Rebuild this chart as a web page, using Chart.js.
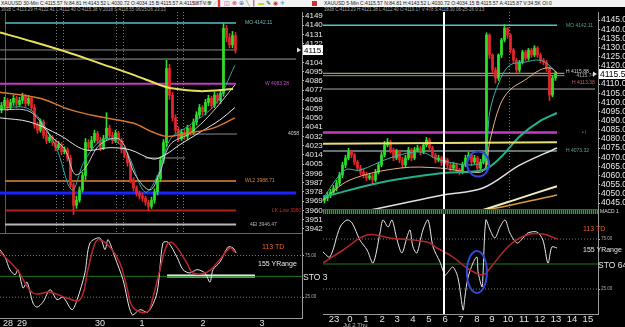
<!DOCTYPE html>
<html><head><meta charset="utf-8">
<script src="https://cdn.jsdelivr.net/npm/chart.js@4/dist/chart.umd.min.js"></script>
<style>
html,body{margin:0;padding:0;background:#000;width:625px;height:327px;overflow:hidden;font-family:"Liberation Sans",Arial,sans-serif;}
canvas{position:absolute;display:block;}
.t{position:absolute;white-space:nowrap;line-height:1;}
.bar{position:absolute;}
</style></head><body>
<div class="bar" style="left:0;top:0;width:625px;height:7px;background:#f2f2f2"></div>
<div class="t" style="left:1px;top:1px;font-size:5px;color:#222">XAUUSD 30-Min C:4115.57 N:84.81 H:4143.52 L:4030.72 O:4034.15 B:4115.57 A:4115.87 V:6</div>
<div class="t" style="left:193px;top:0px;font-size:6px;letter-spacing:2px"><span style="color:#c33">⊘</span><span style="color:#38c">⚐</span><span style="color:#393">▼</span><span style="color:#c93">⁄</span><span style="color:#c33">▌</span><span style="color:#a3a">◫</span><span style="color:#c33">⊗</span><span style="color:#36c">⊕</span><span style="color:#963">╲</span><span style="color:#c33">┃</span><span style="color:#cc3">▬</span><span style="color:#333">✎</span><span style="color:#c33">◉</span><span style="color:#38c">✈</span></div>
<div class="bar" style="left:312px;top:1px;width:5px;height:5px;background:#d03030"></div>
<div class="t" style="left:324px;top:1px;font-size:5px;color:#222">XAUUSD 5-Min C:4115.57 N:84.81 H:4143.52 L:4030.72 O:4034.15 B:4115.57 A:4115.87 V:34.5K OI:0</div>
<div class="t" style="left:1px;top:8px;font-size:4.5px;color:#aaa">3938 C:4113.29 H:4122.41 L:4112.40 O:4115.38 V:2018 S:4118.55 06/25/26 23:13</div>
<div class="t" style="left:324px;top:8px;font-size:4.5px;color:#aaa">3938 C:4113.23 H:4121.38 L:4112.40 O:4119.17 V:478 S:4118.30 06-25-26 0:13</div>

<canvas id="lp" width="323" height="221" style="left:0;top:12px"></canvas>
<canvas id="lo" width="323" height="94" style="left:0;top:233px"></canvas>
<div class="bar" style="left:0;top:233px;width:302px;height:1px;background:#666"></div>
<canvas id="rp" width="302" height="202" style="left:323px;top:12px;background:#000"></canvas>
<canvas id="ro" width="302" height="114" style="left:323px;top:213px;background:#000"></canvas>
<div class="bar" style="left:323px;top:209px;width:275px;height:4px;background:repeating-linear-gradient(90deg,#3aa03a 0 1px,#0b2a0b 1px 2px);border-top:1px solid #2d6d2d"></div>
<div class="t" style="left:600px;top:209px;font-size:5px;color:#ddd">MACD 1</div>

<div class="t" style="left:262px;top:243px;font-size:7px;color:#e2602c">113 TD</div>
<div class="t" style="left:258px;top:260px;font-size:7px;color:#e6e6e6">155 YRange</div>
<div class="t" style="left:303px;top:273px;font-size:8.5px;color:#e6e6e6">STO 3</div>
<div class="t" style="left:583px;top:225px;font-size:7px;color:#e2602c">113 TD</div>
<div class="t" style="left:583px;top:246px;font-size:7px;color:#e6e6e6">155 YRange</div>
<div class="t" style="left:598px;top:261px;font-size:8.5px;color:#e6e6e6">STO 64</div>
<div class="t" style="left:343px;top:322px;font-size:6px;color:#bbb">Jul 2 Thu</div>

<script>
// ---------------- LEFT (30-Min) DATA ----------------
const LEFT_OPEN = [4058,4062,4067,4060,4065,4069,4063,4067,4071,4064,
 4069,4060,4043,4038,4046,4033,4028,4031,4026,4021,
 4024,4017,4019,4011,3985,3965,3970,3980,3994,4026,
 4021,4028,4035,4028,4021,4030,4040,4033,4028,4035,
 4028,4019,4014,4006,3990,3982,3977,3974,3972,3968,
 3964,3970,3978,3991,4009,4026,4098,4072,4050,4038,
 4030,4036,4032,4040,4036,4046,4053,4060,4056,4065,
 4069,4062,4072,4067,4074,4137,4128,4121,4130];
const LEFT_HIGH = [4065,4070,4069,4068,4072,4071,4070,4074,4073,4072,
 4071,4063,4046,4049,4048,4036,4034,4033,4029,4027,
 4026,4022,4021,4014,3987,3974,3983,3997,4030,4029,
 4032,4038,4037,4031,4033,4055,4043,4036,4038,4037,
 4030,4022,4016,4008,3992,3984,3979,3977,3974,3970,
 3973,3981,3994,4012,4029,4106,4102,4075,4053,4041,
 4039,4039,4043,4042,4049,4056,4063,4062,4068,4072,
 4071,4075,4074,4077,4142,4140,4132,4134,4133];
const LEFT_LOW = [4055,4059,4057,4058,4062,4060,4061,4064,4061,4062,
 4057,4040,4035,4036,4030,4025,4026,4023,4018,4019,
 4014,4015,4008,3982,3956,3962,3968,3978,3990,4018,
 4019,4026,4025,4018,4019,4028,4030,4025,4026,4025,
 4016,4011,4003,3987,3979,3974,3971,3969,3965,3960,
 3962,3967,3975,3988,4006,4022,4068,4047,4035,4027,
 4028,4029,4029,4033,4034,4043,4050,4053,4053,4062,
 4059,4060,4064,4064,4071,4124,4118,4118,4113];
const LEFT_CLOSE = [4062,4067,4060,4065,4069,4063,4067,4071,4064,4069,
 4060,4043,4038,4046,4033,4028,4031,4026,4021,4024,
 4017,4019,4011,3985,3965,3970,3980,3994,4026,4021,
 4028,4035,4028,4021,4030,4040,4033,4028,4035,4028,
 4019,4014,4006,3990,3982,3977,3974,3972,3968,3964,
 3970,3978,3991,4009,4026,4098,4072,4050,4038,4030,
 4036,4032,4040,4036,4046,4053,4060,4056,4065,4069,
 4062,4072,4067,4074,4137,4128,4121,4130,4116];

const LEFT_MA_YELLOW_X = [-0.5,10.5,21.8,32.8,43.8,52.8,56.2,66.2,77.2];
const LEFT_MA_YELLOW   = [4133,4124,4114,4103,4092,4082,4079,4076,4078];
const LEFT_MA_ORANGE_X = [-0.5,12.8,22.8,32.8,43.8,50.5,55.2,61.8,70.5,77.8];
const LEFT_MA_ORANGE   = [4075,4069,4058,4051,4045,4036,4032,4035,4040,4050];
const LEFT_MA_WSLOW_X  = [-0.5,9.5,19.5,27.8,36.2,42.8,50.5,54.5,59.5,66.2,72.8,77.8];
const LEFT_MA_WSLOW    = [4050,4046,4033,4019,4021,4019,4010,4014,4024,4036,4048,4060];
const LEFT_MA_WFAST_X  = [-0.5,9.5,16.2,21.2,24.5,27.8,32.8,39.5,44.5,49.5,52.8,56.2,62.8,69.5,77.8];
const LEFT_MA_WFAST    = [4058,4056,4033,4019,3995,4001,4024,4029,3995,3980,3997,4024,4035,4053,4082];
const LEFT_MA_TEAL_X   = [-0.5,9.5,17.8,23.5,27.8,34.5,41.2,47.8,52.2,56.2,62.8,71.2,77.8];
const LEFT_MA_TEAL     = [4060,4058,4024,3980,4009,4030,4019,3978,3995,4029,4043,4063,4101];

const LEFT_LEVELS     = [4142.11,4116.0,4107.2,4083.28,4034.3,4011.0,3988.71,3977.0,3960.0,3946.47];
const LEFT_LEVEL_FROM = [1.2,-0.5,-0.5,-0.5,61.8,47.8,1.2,-0.5,1.2,1.2];
const LEFT_LEVEL_TO   = [78.2,78.2,98.2,78.2,78.5,61.2,78.2,98.2,78.2,78.2];
const LEFT_LEVEL_TEXT = ['MO 4142.11','W 4083.28','4058','WL2 3988.71','LK Low 3960','4EI 3946.47'];
const LEFT_LEVEL_TEXT_AT = [[81.2,4142.11],[87.8,4083.28],[95.5,4034.3],[81.2,3988.71],[90.2,3960],[82.8,3946.47]];
const LEFT_DAY_LINES = [18.2,20.5,38.2,40.5,58.5,60.5];
const LEFT_Y_TICKS = [4149,4140,4131,4122,4113,4104,4095,4086,4077,4068,4059,4050,4041,4032,4023,4014,4005,3996,3987,3978,3969,3960,3951,3942];
const LEFT_LAST = 4115.57;

const LEFT_STO_RED_X = [-0.5,5.2,10.5,16.2,21.8,26.2,28.8,31.2,32.8,36.2,39.5,41.8,43.8,48.5,50.5,52.8,55.2,57.2,61.8,63.8,68.5,71.8,76.2,77.8];
const LEFT_STO_RED   = [79,58,30,31,24,22,58,90,94,85,66,37,13,7,25,58,88,90,66,54,55,66,84,79];
const LEFT_STO_WHITE_X = [-0.5,1.2,2.8,4.5,5.5,7.2,8.5,10.5,11.8,13.8,16.2,18.5,20.5,23.5,25.2,27.8,29.5,32.8,34.5,35.5,37.8,40.5,43.5,46.2,48.8,51.8,53.8,55.5,58.5,60.5,62.8,65.2,67.8,69.5,70.5,72.8,75.5,77.2,78.2];
const LEFT_STO_WHITE   = [82,73,58,52,58,36,43,18,13,19,34,22,25,10,22,54,90,96,82,94,73,46,4,10,7,30,90,91,73,58,54,58,54,43,58,67,85,84,78];
const LEFT_STO_MARK = [55.2,84.5,50.4];
const LEFT_X_TICKS = [2.2,6.8,32.8,46.8,67.2,86.8];
const LEFT_X_LABELS = ['28','29','30','1','2','3'];

// ---------------- RIGHT (5-Min) DATA ----------------
const RIGHT_OPEN = [4046.5,4047.7,4049.4,4051.0,4053.2,4055.9,4060.3,4065.8,4069.6,4072.9,
 4071.2,4067.4,4064.1,4061.9,4060.3,4058.7,4059.8,4057.6,4061.9,4065.8,
 4071.2,4076.7,4078.3,4074.0,4069.6,4072.9,4068.5,4065.8,4069.6,4074.0,
 4069.6,4074.0,4075.1,4072.9,4076.7,4079.4,4075.1,4071.2,4068.5,4069.6,
 4066.9,4068.5,4065.8,4064.1,4065.8,4063.0,4061.9,4065.8,4069.6,4071.2,
 4067.4,4069.6,4064.1,4067.4,4066.0,4136.8,4125.9,4117.7,4113.3,4125.9,
 4134.1,4140.6,4136.8,4128.6,4123.1,4117.7,4122.0,4127.5,4124.2,4128.6,
 4125.9,4129.7,4125.9,4123.1,4122.0,4118.8,4104.0,4113.3];
const RIGHT_HIGH = [4049.2,4050.9,4052.5,4054.7,4057.4,4061.8,4067.3,4071.1,4074.9,4073.9,
 4072.2,4068.4,4065.6,4063.4,4061.8,4061.3,4060.8,4063.4,4067.3,4072.7,
 4078.7,4080.3,4079.3,4075.0,4074.4,4073.9,4070.0,4071.1,4075.5,4075.0,
 4075.5,4076.6,4076.1,4078.2,4080.9,4080.4,4076.1,4072.2,4071.1,4070.6,
 4070.0,4069.5,4066.8,4067.3,4066.8,4064.0,4067.3,4071.1,4072.7,4072.2,
 4071.1,4070.6,4068.9,4072.7,4138.0,4137.5,4126.5,4119.0,4126.5,4135.0,
 4142.5,4141.0,4137.5,4129.5,4124.0,4123.0,4128.5,4128.5,4129.5,4129.5,
 4131.0,4130.5,4127.0,4124.0,4123.0,4119.5,4114.5,4117.0];
const RIGHT_LOW = [4045.0,4046.2,4047.9,4049.5,4051.7,4054.4,4058.8,4064.3,4068.6,4069.7,
 4065.9,4062.6,4060.4,4058.8,4057.2,4057.7,4055.6,4056.6,4060.9,4064.8,
 4070.2,4075.7,4072.5,4068.1,4068.6,4067.0,4064.3,4064.8,4068.6,4068.1,
 4068.6,4073.0,4071.4,4071.9,4075.7,4073.6,4069.7,4067.0,4067.5,4065.4,
 4065.9,4064.3,4062.6,4063.1,4061.5,4060.4,4060.9,4064.8,4068.6,4065.4,
 4066.4,4062.6,4063.1,4066.4,4064.5,4124.0,4116.0,4110.5,4112.0,4124.5,
 4133.0,4135.0,4127.0,4121.5,4116.0,4116.5,4121.0,4123.0,4123.0,4124.5,
 4125.0,4124.5,4121.5,4120.5,4117.0,4101.0,4103.0,4112.0];
const RIGHT_CLOSE = [4047.7,4049.4,4051.0,4053.2,4055.9,4060.3,4065.8,4069.6,4072.9,4071.2,
 4067.4,4064.1,4061.9,4060.3,4058.7,4059.8,4057.6,4061.9,4065.8,4071.2,
 4076.7,4078.3,4074.0,4069.6,4072.9,4068.5,4065.8,4069.6,4074.0,4069.6,
 4074.0,4075.1,4072.9,4076.7,4079.4,4075.1,4071.2,4068.5,4069.6,4066.9,
 4068.5,4065.8,4064.1,4065.8,4063.0,4061.9,4065.8,4069.6,4071.2,4067.4,
 4069.6,4064.1,4067.4,4071.2,4136.8,4125.9,4117.7,4113.3,4125.9,4134.1,
 4140.6,4136.8,4128.6,4123.1,4117.7,4122.0,4127.5,4124.2,4128.6,4125.9,
 4129.7,4125.9,4123.1,4122.0,4118.8,4104.0,4113.3,4115.6];

const RIGHT_MA_GREEN_X = [-0.5,19.5,39.5,52.8,58.5,65.2,71.8,77.5];
const RIGHT_MA_GREEN   = [4048.3,4056.5,4061.4,4063.0,4069.6,4081.6,4089.8,4094.2];
const RIGHT_MA_WHITE_X = [5.2,15.2,39.5,52.8,65.2,77.5];
const RIGHT_MA_WHITE   = [4039.0,4041.2,4049.4,4053.2,4065.8,4075.1];
const RIGHT_MA_YLOW_X  = [48.0,52.8,65.2,77.5];
const RIGHT_MA_YLOW    = [4039.5,4041.2,4047.7,4054.2];
const RIGHT_MA_OLOW_X  = [39.5,52.8,65.2,77.5];
const RIGHT_MA_OLOW    = [4040.6,4041.2,4045.0,4049.4];
const RIGHT_MA_TAN_X   = [-0.5,8.5,25.2,38.5,48.5,53.2,55.2,58.5,61.8,66.8,71.8,75.2,77.5];
const RIGHT_MA_TAN     = [4046.6,4057.6,4064.1,4064.1,4061.9,4063.0,4079.4,4098.5,4106.8,4112.2,4117.7,4118.8,4116.1];
const RIGHT_MA_TEAL_X  = [-0.5,6.8,11.8,21.8,31.8,38.5,48.5,53.2,55.2,58.5,61.8,66.8,71.8,75.2,77.5];
const RIGHT_MA_TEAL    = [4047.7,4063.0,4063.0,4069.6,4072.9,4068.5,4065.8,4068.5,4095.8,4112.2,4120.4,4122.0,4123.1,4119.9,4116.1];

const RIGHT_LEVELS     = [4142.11,4115.9,4114.6,4107.3,4083.5,4073.4];
const RIGHT_LEVEL_FROM = [-0.5,-0.5,-0.5,-0.5,-0.5,-0.5];
const RIGHT_LEVEL_TO   = [77.5,80.0,80.0,90.2,77.5,77.5];
const RIGHT_200MA_X = [-0.5,77.5];
const RIGHT_200MA   = [4077.4,4078.2];
const RIGHT_LEVEL_TEXT = ['MO 4142.11','H 4115.88','4115.74','H 4113.38','• I','H 4073.32'];
const RIGHT_LEVEL_TEXT_AT = [[80.5,4142.11],[80.5,4116.6],[84.0,4114.6],[82.5,4110.8],[85.8,4083.5],[80.5,4073.4]];
const RIGHT_Y_TICKS = [4145,4140,4135,4130,4125,4120,4115,4110,4105,4100,4095,4090,4085,4080,4075,4070,4065,4060,4055,4050,4045];
const RIGHT_LAST = 4115.57;
const RIGHT_CURSOR = 39.8;
const RIGHT_HOUR_LINE = 61.5;
const RIGHT_CIRCLE_PRICE = [51.2,4066.3];
const RIGHT_CIRCLE_STO = [50.8,42];

const RIGHT_STO_RED_X = [-0.5,6.2,14.2,21.8,34.2,37.5,42.8,47.5,52.8,55.2,61.8,67.5,72.8,77.5];
const RIGHT_STO_RED   = [51,64,79,76,72,66,57,46,39,46,69,79,80,75];
const RIGHT_STO_WHITE_X = [-0.5,1.8,5.2,7.5,9.2,11.8,14.2,16.2,18.5,19.5,21.2,22.5,24.2,25.8,27.5,28.5,29.5,30.8,32.8,34.5,36.2,38.5,40.2,41.2,42.8,44.5,46.2,46.8,47.8,49.5,50.8,51.2,52.5,52.8,53.8,55.2,56.8,58.5,60.2,61.8,64.2,66.2,67.8,70.8,72.8,74.5,75.8,77.5];
const RIGHT_STO_WHITE   = [62,57,87,94,91,74,64,51,81,94,87,94,74,61,77,84,67,61,84,94,67,52,39,42,47,36,4,17,36,51,57,42,27,37,94,84,76,87,94,81,71,76,81,82,74,51,67,66];
const RIGHT_X_TICKS = [3.2,8.5,13.8,19.2,24.2,29.5,34.8,40.2,45.5,50.8,55.8,61.2,66.5,71.8,77.2,82.5,87.8];
const RIGHT_X_LABELS = ['23','0','1','2','3','4','5','6','7','8','9','10','11','12','13','14','15'];

// ---------------- RENDERING ----------------
const UP = '#2de02a', DOWN = '#e3262a';
const FONT = '"Liberation Sans",Arial,sans-serif';
Chart.defaults.animation = false;
Chart.defaults.font.family = FONT;

function candles(o,h,l,c,bw){
  const col = c.map((v,i)=> v>=o[i] ? UP : DOWN);
  return [
    {type:'bar', data:c.map((v,i)=>({x:i,y:[l[i],h[i]]})), backgroundColor:col, barThickness:1, grouped:false, order:5},
    {type:'bar', data:c.map((v,i)=>({x:i,y:[o[i],v]})), backgroundColor:col, barThickness:bw, grouped:false, order:4}
  ];
}
function line(xs,ys,color,w,tension){
  return {type:'line', data:xs.map((x,i)=>({x,y:ys[i]})), borderColor:color, borderWidth:w, pointRadius:0, tension:tension===undefined?0.35:tension, order:2};
}
function hline(x0,x1,v,color,w,dash){
  return {type:'line', data:[{x:x0,y:v},{x:x1,y:v}], borderColor:color, borderWidth:w, borderDash:dash||[], pointRadius:0, tension:0, order:8};
}
function drawDeco(chart,d){
  if(!d) return;
  const {ctx, chartArea:ca, scales:{x,y}} = chart;
  ctx.save();
  (d.vlines||[]).forEach(v=>{
    const px = Math.round(x.getPixelForValue(v.x)) + (v.w%2 ? 0.5 : 0);
    ctx.beginPath(); ctx.strokeStyle=v.color; ctx.lineWidth=v.w; ctx.setLineDash(v.dash||[]);
    ctx.moveTo(px, ca.top); ctx.lineTo(px, ca.bottom); ctx.stroke();
  });
  ctx.setLineDash([]);
  (d.ellipses||[]).forEach(e=>{
    ctx.beginPath(); ctx.strokeStyle=e.color; ctx.lineWidth=e.w;
    ctx.ellipse(x.getPixelForValue(e.x), y.getPixelForValue(e.y), e.rx, e.ry, 0, 0, Math.PI*2); ctx.stroke();
  });
  (d.labels||[]).forEach(l=>{
    ctx.font=l.font; ctx.fillStyle=l.color; ctx.textBaseline='middle'; ctx.textAlign='left';
    ctx.fillText(l.text, x.getPixelForValue(l.x), y.getPixelForValue(l.y));
  });
  if(d.tag){
    const py = Math.round(y.getPixelForValue(d.tag.value));
    ctx.fillStyle='#fff'; ctx.fillRect(ca.right+1, py-5, 40, 10);
    ctx.fillStyle='#000'; ctx.font=d.tag.font; ctx.textBaseline='middle'; ctx.textAlign='left';
    ctx.fillText(d.tag.text, ca.right+2, py+0.5);
    ctx.fillStyle='#ddd'; ctx.beginPath(); ctx.moveTo(ca.right-5,py-2.5); ctx.lineTo(ca.right-1,py); ctx.lineTo(ca.right-5,py+2.5); ctx.fill();
  }
  ctx.restore();
}
const deco = {
  id:'deco',
  beforeDatasetsDraw(chart,a,o){ drawDeco(chart,o.under); },
  afterDatasetsDraw(chart,a,o){ drawDeco(chart,o.over); }
};

function yAxis(min,max,ticks,fmt,width,size,color){
  return {
    type:'linear', position:'right', min, max,
    afterBuildTicks:s=>{ s.ticks = ticks.map(v=>({value:v})); },
    afterFit:s=>{ s.width=width; s.paddingTop=0; s.paddingBottom=0; },
    ticks:{autoSkip:false, color:color||'#e8e8e8', font:{size, family:FONT}, padding:1, callback:v=>fmt(v)},
    grid:{display:true, drawOnChartArea:false, drawTicks:true, tickLength:2, color:'#bbb'},
    border:{display:true, color:'#999'}
  };
}
function xAxis(min,max,ticks,labels,height,size){
  if(!ticks) return {type:'linear', min, max, offset:false, display:false};
  return {
    type:'linear', min, max, offset:false, position:'bottom',
    afterBuildTicks:s=>{ s.ticks = ticks.map(v=>({value:v})); },
    afterFit:s=>{ s.height=height; s.paddingLeft=0; s.paddingRight=0; },
    ticks:{autoSkip:false, maxRotation:0, color:'#e0e0e0', font:{size, family:FONT}, padding:0, callback:(v,i)=>labels[i]},
    grid:{display:true, drawOnChartArea:false, drawTicks:true, tickLength:0, color:'#999'},
    border:{display:true, color:'#999'}
  };
}
function make(id, datasets, scales, decoOpts){
  return new Chart(document.getElementById(id), {
    type:'bar',
    data:{datasets},
    options:{
      responsive:false, maintainAspectRatio:false, devicePixelRatio:1, animation:false,
      layout:{padding:0},
      plugins:{legend:{display:false}, tooltip:{enabled:false}, deco:decoOpts},
      scales
    },
    plugins:[deco]
  });
}

// ---- left price ----
const LCOL = ['#4fc3c8','#8a8a8a','#9a9a9a','#c23cc2','#8a8a8a','#8a8a8a','#e0883c','#1a22ff','#b0201e','#b8b8b8'];
const LW   = [1.5,1,1,2,1,1,1.5,3,2,2];
const LTXTCOL = ['#7eb8b4','#c04cc0','#cfcfcf','#d0823c','#c43030','#b0b0b0'];
const lds = [];
LEFT_LEVELS.forEach((v,i)=>lds.push(hline(LEFT_LEVEL_FROM[i],LEFT_LEVEL_TO[i],v,LCOL[i],LW[i])));
lds.push(...candles(LEFT_OPEN,LEFT_HIGH,LEFT_LOW,LEFT_CLOSE,2));
lds.push(line(LEFT_MA_YELLOW_X,LEFT_MA_YELLOW,'#e6e05a',2));
lds.push(line(LEFT_MA_ORANGE_X,LEFT_MA_ORANGE,'#d8762e',1.5));
lds.push(line(LEFT_MA_WSLOW_X,LEFT_MA_WSLOW,'#e8e8e8',1));
lds.push(line(LEFT_MA_WFAST_X,LEFT_MA_WFAST,'#c8c8c8',1));
lds.push(line(LEFT_MA_TEAL_X,LEFT_MA_TEAL,'#2aa8a0',1));
make('lp', lds, {
  x:xAxis(-0.5,100.17),
  y:yAxis(3938.1,4152.9,LEFT_Y_TICKS,v=>v.toFixed(1),21,8)
},{
  under:{vlines:[...LEFT_DAY_LINES.map(x=>({x,color:'#7a7a7a',w:1,dash:[1,2]})),{x:1.2,color:'#a02ca0',w:1}]},
  over:{labels:LEFT_LEVEL_TEXT.map((t,i)=>({text:t,x:LEFT_LEVEL_TEXT_AT[i][0],y:LEFT_LEVEL_TEXT_AT[i][1],color:LTXTCOL[i],font:'5px "Liberation Sans"'})),
        tag:{value:LEFT_LAST,text:LEFT_LAST.toFixed(2),font:'8px '+FONT}}
});

// ---- left oscillator ----
make('lo', [
  hline(-0.5,100.17,75,'#777',1,[1,2]),
  hline(-0.5,100.17,25,'#777',1,[1,2]),
  hline(-0.5,100.17,50,'#1d7a1d',1),
  line(LEFT_STO_RED_X,LEFT_STO_RED,'#b8262e',1.5,0.4),
  line(LEFT_STO_WHITE_X,LEFT_STO_WHITE,'#e8e8e8',1,0.3),
  hline(LEFT_STO_MARK[0],LEFT_STO_MARK[1],LEFT_STO_MARK[2],'#ffffff',3)
], {
  x:xAxis(-0.5,100.17,LEFT_X_TICKS,LEFT_X_LABELS,9,9),
  y:yAxis(0,102,[75,25],v=>v.toFixed(2),21,4.5,'#aaa')
});

// ---- right price ----
const RCOL = ['#4fc3c8','#c8bc8a','#9a9478','#a8a8a8','#c23cc2','#7e9c98'];
const RW   = [1.5,1,1,1,2.5,1.5];
const RTXTCOL = ['#4aa090','#cfcfcf','#aaaaaa','#c06060','#c04cc0','#6aa080'];
const rds = [];
RIGHT_LEVELS.forEach((v,i)=>rds.push(hline(RIGHT_LEVEL_FROM[i],RIGHT_LEVEL_TO[i],v,RCOL[i],RW[i])));
rds.push(line(RIGHT_200MA_X,RIGHT_200MA,'#e8e070',2,0));
rds.push(...candles(RIGHT_OPEN,RIGHT_HIGH,RIGHT_LOW,RIGHT_CLOSE,2));
rds.push(line(RIGHT_MA_GREEN_X,RIGHT_MA_GREEN,'#22b08c',2));
rds.push(line(RIGHT_MA_WHITE_X,RIGHT_MA_WHITE,'#e0e0e0',1.5));
rds.push(line(RIGHT_MA_YLOW_X,RIGHT_MA_YLOW,'#f0eec0',2));
rds.push(line(RIGHT_MA_OLOW_X,RIGHT_MA_OLOW,'#d89a3a',1.5));
rds.push(line(RIGHT_MA_TAN_X,RIGHT_MA_TAN,'#e8b27a',1));
rds.push(line(RIGHT_MA_TEAL_X,RIGHT_MA_TEAL,'#3ab0a8',1));
make('rp', rds, {
  x:xAxis(-0.5,91.17),
  y:yAxis(4039.0,4149.4,RIGHT_Y_TICKS,v=>v.toFixed(2),27,8.5)
},{
  under:{vlines:[{x:RIGHT_HOUR_LINE,color:'#777',w:1,dash:[1,2]}]},
  over:{vlines:[{x:RIGHT_CURSOR,color:'#ffffff',w:2}],
        ellipses:[{x:RIGHT_CIRCLE_PRICE[0],y:RIGHT_CIRCLE_PRICE[1],rx:11,ry:12.5,color:'#3348d6',w:2}],
        labels:RIGHT_LEVEL_TEXT.map((t,i)=>({text:t,x:RIGHT_LEVEL_TEXT_AT[i][0],y:RIGHT_LEVEL_TEXT_AT[i][1],color:RTXTCOL[i],font:'5px "Liberation Sans"'})),
        tag:{value:RIGHT_LAST,text:RIGHT_LAST.toFixed(2),font:'8.5px '+FONT}}
});

// ---- right oscillator ----
make('ro', [
  hline(-0.5,91.17,75,'#777',1,[1,2]),
  hline(-0.5,91.17,25,'#777',1,[1,2]),
  hline(-0.5,91.17,50,'#1d7a1d',1),
  line(RIGHT_STO_RED_X,RIGHT_STO_RED,'#b8262e',1.5,0.4),
  line(RIGHT_STO_WHITE_X,RIGHT_STO_WHITE,'#e8e8e8',1,0.3)
], {
  x:xAxis(-0.5,91.17,RIGHT_X_TICKS,RIGHT_X_LABELS,13,9.5),
  y:yAxis(0,101,[75,25],v=>v.toFixed(2),27,4.5,'#aaa')
},{
  over:{vlines:[{x:RIGHT_CURSOR,color:'#ffffff',w:2}],
        ellipses:[{x:RIGHT_CIRCLE_STO[0],y:RIGHT_CIRCLE_STO[1],rx:10,ry:21,color:'#3348d6',w:2}]}
});
</script>
</body></html>
